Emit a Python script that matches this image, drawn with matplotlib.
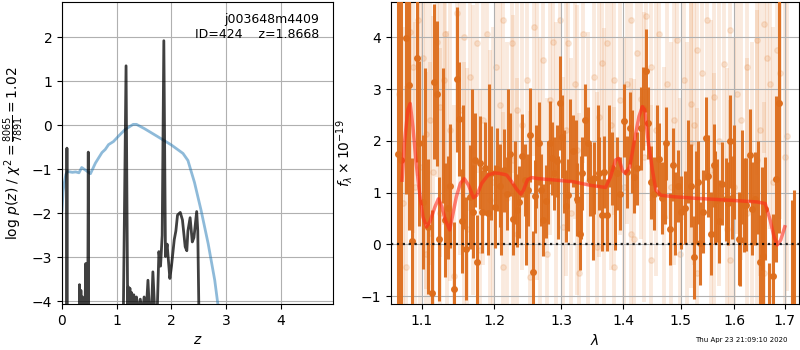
import matplotlib
matplotlib.use("Agg")
import matplotlib.pyplot as plt
from matplotlib.ticker import FixedLocator, NullLocator

# left panel: chi2 curve (blue) and log p(z) (dark)
z_chi2 = [0.00, 0.02, 0.04, 0.07, 0.10, 0.19, 0.25, 0.31, 0.36, 0.43, 0.52, 0.61, 0.73,
          0.79, 0.85, 0.94, 1.03, 1.15, 1.30, 1.36, 1.51, 1.75, 2.00, 2.21, 2.30, 2.42,
          2.54, 2.67, 2.79, 2.84, 2.90]
chi2_curve = [-1.93, -1.5, -1.32, -1.12, -1.05, -1.07, -1.06, -1.08, -0.96, -1.02, -1.10,
              -0.86, -0.62, -0.55, -0.44, -0.37, -0.25, -0.10, 0.02, 0.02, -0.08, -0.26,
              -0.45, -0.64, -0.80, -1.30, -1.93, -2.69, -3.52, -4.00, -4.50]

z_pz = [0.00, 0.075, 0.09, 0.105, 0.31, 0.32, 0.33, 0.345, 0.36, 0.375, 0.39, 0.42, 0.435,
        0.45, 0.47, 0.48, 0.495, 1.08, 1.13, 1.17, 1.20, 1.21, 1.225, 1.24, 1.255, 1.27,
        1.29, 1.31, 1.33, 1.36, 1.40, 1.43, 1.47, 1.50, 1.54, 1.57, 1.60, 1.63, 1.66,
        1.70, 1.74, 1.77, 1.80, 1.83, 1.86, 1.89, 1.92, 1.97, 2.00, 2.05, 2.08, 2.11,
        2.16, 2.20, 2.25, 2.28, 2.30, 2.34, 2.38, 2.41, 2.46, 2.48, 2.52, 4.95]
log_pz = [-9, -9, -0.52, -9, -6, -3.62, -5, -3.75, -5, -3.9, -5, -4.2, -3.14,
          -5, -4.5, -0.61, -9, -9, -3.2, 1.35, -4.3, -3.67, -4.2, -3.7, -4.2, -3.8,
          -4.1, -3.85, -4.05, -3.9, -4.3, -3.95, -4.3, -3.9, -4.2, -3.52, -4.3, -4.4, -3.33,
          -4.4, -4.2, -2.87, -3.2, -2.5, 1.92, -2.98, -2.7, -3.48, -3.2, -2.6, -2.4, -2.04,
          -1.98, -2.15, -2.76, -2.85, -2.4, -2.1, -2.65, -2.55, -1.96, -2.4, -6, -9]

# right panel: binned spectrum
wave = [1.0684, 1.0729, 1.0795, 1.0829, 1.0874, 1.0934, 1.0961, 1.1014, 1.1083, 1.1130,
        1.1161, 1.1198, 1.1234, 1.1313, 1.1344, 1.1382, 1.1427, 1.1474, 1.1496, 1.1543,
        1.1602, 1.1647, 1.1694, 1.1726, 1.1758, 1.1795, 1.1818, 1.1864, 1.1901, 1.1956,
        1.2002, 1.2036, 1.2076, 1.2136, 1.2177, 1.2226, 1.2276, 1.2327, 1.2366, 1.2402,
        1.2451, 1.2486, 1.2526, 1.2561, 1.2601, 1.2651, 1.2687, 1.2726, 1.2766, 1.2826,
        1.2861, 1.2886, 1.2936, 1.2976, 1.3018, 1.3072, 1.3110, 1.3191, 1.3247, 1.3290,
        1.3329, 1.3383, 1.3421, 1.3465, 1.3519, 1.3601, 1.3658, 1.3684, 1.3728, 1.3822,
        1.3904, 1.3958, 1.4010, 1.4069, 1.4115, 1.4184, 1.4243, 1.4301, 1.4341, 1.4393,
        1.4428, 1.4475, 1.4532, 1.4619, 1.4678, 1.4736, 1.4805, 1.4863, 1.4950, 1.5015,
        1.5089, 1.5182, 1.5243, 1.5318, 1.5355, 1.5411, 1.5461, 1.5504, 1.5567, 1.5615,
        1.5665, 1.5708, 1.5771, 1.5833, 1.5876, 1.5913, 1.5957, 1.6084, 1.6117, 1.6182,
        1.6234, 1.6299, 1.6346, 1.6410, 1.6494, 1.6560, 1.6604, 1.6680, 1.6767, 1.6820,
        1.6884, 1.7155, 1.7190]
flux = [1.74, 1.63, 3.98, 3.07, 0.07, 3.59, 1.95, 0.82, 0.34, -0.93,
        3.14, 2.91, 0.10, 0.47, 0.71, 1.13, -0.86, 3.19, 2.42, 0.45,
        -0.08, 0.92, 0.63, 1.63, -0.34, 1.58, 0.63, 1.47, 0.60, 1.38,
        0.73, 1.45, 1.13, 1.43, 0.98, 1.74, 0.49, 0.66, 0.82, 1.71,
        1.24, 1.05, 2.11, -0.54, 0.93, 1.95, 1.05, 0.47, 0.83, 1.96,
        1.66, 1.37, 1.61, 2.73, 2.08, 0.74, 0.95, 1.80, 0.87, 0.21,
        1.37, 2.40, 1.95, 1.24, 1.28, 1.37, 0.57, 1.40, 0.57, 1.47,
        1.37, 0.98, 2.39, 1.40, 2.25, 1.31, 1.47, 2.24, 2.63, 3.35,
        2.34, 1.20, 0.98, 1.64, 0.90, 1.95, 0.30, 1.54, 1.13, 0.62,
        0.71, 1.13, -0.25, 1.20, 0.02, 0.63, 2.05, 1.32, 0.21, 1.53,
        0.85, 0.45, 1.17, 0.87, 0.79, 1.99, 0.90, 0.11, 0.09, 0.76,
        0.77, 1.72, 0.69, 0.88, -0.34, -0.22, 0.69, -1.35, -0.61, 1.27,
        2.73, -1.40, -1.30]
err = [4.0, 3.5, 3.0, 2.8, 1.6, 2.0, 1.6, 1.3, 1.3, 1.6,
       1.5, 1.4, 1.2, 1.1, 1.0, 1.2, 1.3, 1.4, 1.1, 1.0,
       1.0, 1.0, 0.9, 0.9, 0.9, 0.9, 0.8, 0.9, 0.8, 0.9,
       0.8, 0.8, 0.8, 0.8, 0.7, 0.8, 0.7, 0.7, 0.7, 0.8,
       0.7, 0.7, 0.9, 0.8, 0.7, 0.8, 0.7, 0.7, 0.7, 0.8,
       0.7, 0.7, 0.7, 0.9, 0.8, 0.7, 0.7, 0.7, 0.7, 0.7,
       0.7, 0.7, 0.7, 0.7, 0.7, 0.7, 0.7, 0.7, 0.7, 0.7,
       0.7, 0.7, 0.7, 0.7, 0.7, 0.7, 0.7, 0.8, 0.8, 0.8,
       0.7, 0.7, 0.7, 0.7, 0.7, 0.7, 0.7, 0.7, 0.7, 0.7,
       0.7, 0.8, 0.8, 0.8, 0.8, 0.8, 0.8, 0.8, 0.8, 0.8,
       0.8, 0.8, 0.8, 0.8, 0.8, 0.9, 0.8, 0.9, 0.9, 0.9,
       0.9, 0.9, 0.9, 0.9, 0.9, 1.0, 1.0, 1.0, 1.2, 1.6,
       2.5, 2.25, 2.35]

# bins whose points are hidden behind neighbours
wave_hidden = [1.1040, 1.1280, 1.1560, 1.1680, 1.1920, 1.2100, 1.2200, 1.2300, 1.2470, 1.2620,
               1.2790, 1.2950, 1.3040, 1.3140, 1.3230, 1.3310, 1.3500, 1.3580, 1.3760, 1.3860,
               1.4150, 1.4580, 1.4720, 1.4900, 1.5130, 1.5280, 1.5630, 1.5990, 1.6150, 1.6460,
               1.6530]
flux_hidden = [1.9, 2.1, 1.5, 2.0, 2.2, 0.6, 2.2, 1.2, 0.4, 1.5,
               1.2, 0.9, 1.4, 2.0, 1.6, 0.9, 0.5, 1.9, 1.9, 0.7,
               1.8, 1.9, 1.2, 0.6, 1.6, 0.9, 0.9, 1.4, 1.3, 1.1,
               0.5]
err_hidden = [1.5, 1.3, 1.2, 1.0, 0.9, 0.8, 0.8, 0.8, 0.8, 0.8,
              0.8, 0.8, 0.8, 0.8, 0.8, 0.8, 0.8, 0.8, 0.8, 0.8,
              0.8, 0.8, 0.8, 0.8, 0.8, 0.9, 0.9, 0.9, 0.9, 0.9,
              1.0]

# right panel: unbinned beam spectra (faint)
wave_raw = [1.0795, 1.0882, 1.0947, 1.0970, 1.1061, 1.1061, 1.1106, 1.1106, 1.1198, 1.1244,
            1.1244, 1.1290, 1.1313, 1.1336, 1.1474, 1.1565, 1.1565, 1.1657, 1.1702, 1.1749,
            1.1795, 1.1887, 1.1932, 1.2027, 1.2126, 1.2126, 1.2251, 1.2276, 1.2327, 1.2327,
            1.2477, 1.2526, 1.2576, 1.2626, 1.2726, 1.2776, 1.2826, 1.2926, 1.2976, 1.3028,
            1.3110, 1.3218, 1.3247, 1.3276, 1.3351, 1.3519, 1.3576, 1.3601, 1.3684, 1.3739,
            1.3850, 1.3850, 1.3958, 1.4010, 1.4127, 1.4127, 1.4243, 1.4355, 1.4475, 1.4475,
            1.4619, 1.4707, 1.4765, 1.4823, 1.4937, 1.4997, 1.5058, 1.5182, 1.5182, 1.5307,
            1.5307, 1.5493, 1.5554, 1.5615, 1.5615, 1.5802, 1.5926, 1.5926, 1.5989, 1.6052,
            1.6247, 1.6247, 1.6442, 1.6442, 1.6572, 1.6572, 1.6702, 1.6833, 1.6998,
            1.0700, 1.0760, 1.0850, 1.0910, 1.1010, 1.1150, 1.1380, 1.1430, 1.1520, 1.1610,
            1.1840, 1.1980, 1.2080, 1.2180, 1.2400, 1.2680, 1.2880, 1.3080, 1.3160, 1.3420,
            1.3650, 1.3800, 1.4060, 1.4180, 1.4300, 1.4400, 1.4560, 1.4880, 1.5120, 1.5240,
            1.5400, 1.5700, 1.5860, 1.6130, 1.6340, 1.6500, 1.6640, 1.6760, 1.6900, 1.7040]
flux_raw = [-0.44, 3.43, 4.33, 1.50, 2.14, -0.18, 2.40, 0.22, 3.90, 2.65,
            0.60, 3.17, 4.07, 1.11, 4.46, 4.01, 0.53, 3.24, 1.82, 3.88,
            -0.11, 4.07, 0.86, 3.43, 4.33, -0.44, 3.88, 1.63, 2.59, 0.21,
            3.17, -0.63, 4.20, 2.01, 3.56, -0.18, 2.78, 1.50, 4.33, 0.34,
            3.88, 3.10, 1.82, -0.56, 4.07, 3.24, -0.05, 2.46, 1.37, 3.88,
            3.17, -0.44, 2.78, 1.11, 4.33, 0.21, 3.69, 1.69, 3.43, -0.31,
            4.07, 0.53, 3.10, 1.11, 3.94, -0.18, 3.17, 2.72, 1.95, 3.75,
            -0.56, 4.33, 1.44, 2.85, 0.21, 3.49, 4.14, -0.31, 1.11, 2.91,
            3.43, 0.60, 3.94, 1.63, 4.26, -0.56, 3.10, 3.75, 1.69,
            2.9, 0.8, 4.1, 1.1, 3.6, 1.4, 2.2, -0.6, 2.6, 0.3,
            2.4, 1.2, 2.7, 0.9, 2.3, 1.1, 3.9, 2.2, 0.6, 1.2,
            3.5, 2.3, 3.1, 0.1, 2.8, 4.4, 2.2, 2.4, 0.9, 2.3,
            3.3, 2.0, 0.3, 2.4, 0.9, 2.2, 3.6, 1.2, 3.3, 2.1]
err_raw = [3.5, 3.2, 3.0, 3.4, 3.0, 3.5, 2.8, 3.3, 2.6, 2.9,
           3.2, 2.8, 2.6, 3.0, 2.5, 2.7, 3.0, 2.6, 2.8, 2.5,
           3.1, 2.6, 2.9, 2.6, 2.4, 3.0, 2.5, 2.8, 2.6, 3.0,
           2.6, 3.2, 2.5, 2.7, 2.5, 3.0, 2.6, 2.8, 2.4, 2.9,
           2.5, 2.6, 2.8, 3.1, 2.5, 2.6, 3.0, 2.7, 2.8, 2.5,
           2.6, 3.1, 2.6, 2.9, 2.4, 3.0, 2.6, 2.8, 2.6, 3.0,
           2.5, 2.9, 2.6, 2.8, 2.5, 3.0, 2.7, 2.7, 2.8, 2.6,
           3.2, 2.4, 2.9, 2.7, 3.1, 2.6, 2.5, 3.1, 2.9, 2.7,
           2.6, 3.0, 2.6, 2.9, 2.5, 3.3, 2.8, 2.7, 3.2,
           3.5, 3.4, 3.0, 3.2, 2.9, 3.0, 2.9, 3.3, 2.8, 3.1,
           2.8, 3.0, 2.7, 3.0, 2.8, 2.9, 2.6, 2.8, 3.0, 2.9,
           2.6, 2.8, 2.7, 3.1, 2.7, 2.5, 2.8, 2.8, 3.0, 2.7,
           2.6, 2.8, 3.1, 2.7, 3.0, 2.8, 2.6, 3.0, 2.8, 3.0]

# best-fit model
wave_model = [1.0742, 1.0772, 1.0816, 1.0847, 1.0882, 1.0926, 1.0970, 1.1014, 1.1061, 1.1106,
              1.1175, 1.1220, 1.1267, 1.1313, 1.1373, 1.1419, 1.1464, 1.1519, 1.1574, 1.1634,
              1.1702, 1.1749, 1.1818, 1.1909, 1.2000, 1.2076, 1.2177, 1.2251, 1.2327, 1.2387,
              1.2426, 1.2486, 1.2551, 1.2651, 1.2926, 1.3191, 1.3466, 1.3712, 1.3794, 1.3876,
              1.3930, 1.3990, 1.4040, 1.4115, 1.4184, 1.4271, 1.4329, 1.4369, 1.4428, 1.4504,
              1.4562, 1.4649, 1.4881, 1.5275, 1.5802, 1.6442, 1.6604, 1.6702, 1.6779, 1.6845,
              1.6913, 1.6998]
flux_model = [1.24, 1.96, 2.60, 2.72, 2.27, 1.56, 0.98, 0.53, 0.34, 0.44,
              0.73, 0.88, 0.73, 0.47, 0.28, 0.60, 0.92, 1.18, 1.27, 1.14,
              0.90, 0.95, 1.18, 1.34, 1.38, 1.37, 1.34, 1.21, 1.06, 0.97,
              1.05, 1.25, 1.29, 1.27, 1.24, 1.21, 1.14, 1.10, 1.31, 1.63,
              1.66, 1.43, 1.37, 1.50, 1.95, 2.47, 2.66, 2.60, 2.01, 1.43,
              1.05, 0.95, 0.92, 0.89, 0.86, 0.82, 0.79, 0.47, 0.15, -0.01,
              0.08, 0.34]

fig = plt.figure(figsize=(8, 3.5), dpi=100)
ax = fig.add_axes([0.0775, 0.1314, 0.33875, 0.863])

ax.plot(z_chi2, chi2_curve, color='tab:blue', alpha=0.5, lw=2)
ax.plot(z_pz, log_pz, color='k', alpha=0.75, lw=2)
ax.set_xlim(0, 4.95)
ax.set_ylim(-4.06, 2.8)
ax.set_xticks([0, 1, 2, 3, 4])
ax.set_yticks([-4, -3, -2, -1, 0, 1, 2])
ax.grid()
ax.set_xlabel('$z$')
ax.set_ylabel(r'log $p(z)$ / $\chi^2=\frac{8065}{7891}=1.02$')
ax.text(0.95, 0.965, 'j003648m4409\nID=424    z=1.8668', ha='right', va='top',
        transform=ax.transAxes, fontsize=9)

ax = fig.add_axes([0.48875, 0.1314, 0.51, 0.863])
ax.errorbar(wave_raw, flux_raw, yerr=err_raw, fmt='o', color='#e07828', alpha=0.15,
            ms=4, elinewidth=2.8, zorder=1)
ax.errorbar(wave_hidden, flux_hidden, yerr=err_hidden, fmt='none', ecolor='#dd6d1c',
            alpha=0.95, elinewidth=2.2, zorder=3)
ax.errorbar(wave, flux, yerr=err, fmt='o', color='#dd6d1c', alpha=0.95,
            ms=4, elinewidth=2.2, zorder=3)
ax.plot(wave_model, flux_model, color='#ff2a1a', alpha=0.6, lw=2.5, zorder=4)
ax.axhline(0, color='k', linestyle=':', lw=1.6, alpha=0.85, zorder=5)

ax.set_xscale('log')
ax.set_xlim(1.06, 1.729)
ax.set_ylim(-1.15, 4.68)
ax.xaxis.set_major_locator(FixedLocator([1.1, 1.2, 1.3, 1.4, 1.5, 1.6, 1.7]))
ax.xaxis.set_minor_locator(NullLocator())
ax.set_xticklabels(['1.1', '1.2', '1.3', '1.4', '1.5', '1.6', '1.7'])
ax.set_yticks([-1, 0, 1, 2, 3, 4])
ax.grid()
ax.set_xlabel(r'$\lambda$')
ax.set_ylabel(r'$f_\lambda\times10^{-19}$')

fig.text(0.985, 0.02, 'Thu Apr 23 21:09:10 2020', ha='right', va='bottom', fontsize=5)

plt.savefig('out.png', dpi=100)
